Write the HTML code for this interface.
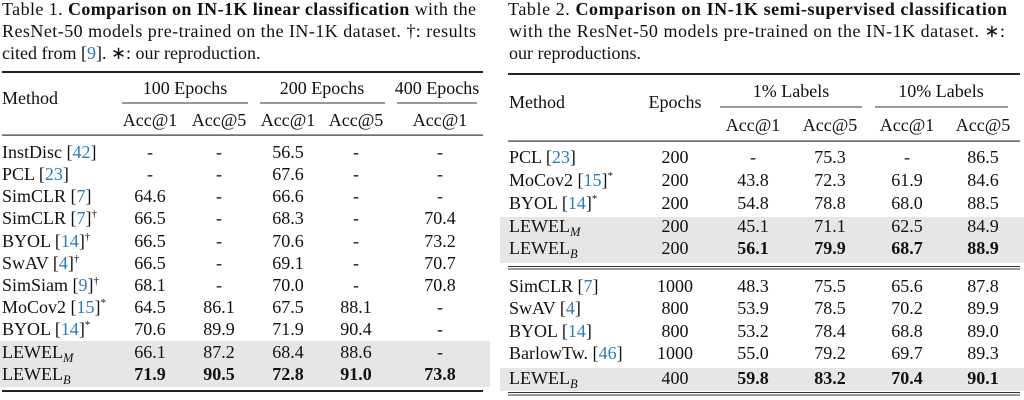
<!DOCTYPE html>
<html><head><meta charset="utf-8"><style>
html,body{margin:0;padding:0;background:#fff;}
svg{display:block;font-family:"Liberation Serif",serif;font-size:18px;fill:#111;}
.b{fill:#2b7bbf}
.bd{font-weight:bold}
</style></head><body>
<svg width="1024" height="400" viewBox="0 0 1024 400" xmlns="http://www.w3.org/2000/svg">
<rect x="0" y="341" width="490" height="46" fill="#e6e6e6"/>
<rect x="500" y="217" width="524" height="46" fill="#e6e6e6"/>
<rect x="500" y="368" width="524" height="23" fill="#e6e6e6"/>

<text x="2" y="15" textLength="474" lengthAdjust="spacing">Table 1.  <tspan class="bd">Comparison on IN-1K linear classification</tspan> with the</text>
<text x="2" y="37" textLength="474" lengthAdjust="spacing">ResNet-50 models pre-trained on the IN-1K dataset.  †: results</text>
<text x="2" y="59">cited from [<tspan class="b">9</tspan>]. ∗: our reproduction.</text>

<rect x="2" y="71" width="481" height="2" fill="#222"/>
<rect x="122" y="102.5" width="126" height="1" fill="#333"/>
<rect x="260" y="102.5" width="125" height="1" fill="#333"/>
<rect x="397" y="102.5" width="80" height="1" fill="#333"/>
<rect x="2" y="134.5" width="481" height="1.2" fill="#333"/>
<rect x="2" y="390" width="481" height="2" fill="#222"/>

<g>
<text x="2" y="104">Method</text>
<text x="185" y="94" text-anchor="middle">100 Epochs</text>
<text x="322" y="94" text-anchor="middle">200 Epochs</text>
<text x="437" y="94" text-anchor="middle">400 Epochs</text>
<g text-anchor="middle">
<text x="150" y="126">Acc@1</text><text x="219" y="126">Acc@5</text>
<text x="288" y="126">Acc@1</text><text x="356" y="126">Acc@5</text>
<text x="440" y="126">Acc@1</text>
</g>
</g>

<g>
<text x="2" y="158">InstDisc [<tspan class="b">42</tspan>]</text>
<text x="2" y="180">PCL [<tspan class="b">23</tspan>]</text>
<text x="2" y="202">SimCLR [<tspan class="b">7</tspan>]</text>
<text x="2" y="224">SimCLR [<tspan class="b">7</tspan>]<tspan font-size="11" dy="-7">†</tspan></text>
<text x="2" y="247">BYOL [<tspan class="b">14</tspan>]<tspan font-size="11" dy="-7">†</tspan></text>
<text x="2" y="269">SwAV [<tspan class="b">4</tspan>]<tspan font-size="11" dy="-7">†</tspan></text>
<text x="2" y="291">SimSiam [<tspan class="b">9</tspan>]<tspan font-size="11" dy="-7">†</tspan></text>
<text x="2" y="313">MoCov2 [<tspan class="b">15</tspan>]<tspan font-size="11" dy="-7">*</tspan></text>
<text x="2" y="335">BYOL [<tspan class="b">14</tspan>]<tspan font-size="11" dy="-7">*</tspan></text>
<text x="2" y="358">LEWEL<tspan font-size="12.5" font-style="italic" dy="4">M</tspan></text>
<text x="2" y="380">LEWEL<tspan font-size="12.5" font-style="italic" dy="4">B</tspan></text>
</g>
<g text-anchor="middle">
<text x="150" y="158">-</text><text x="150" y="180">-</text><text x="150" y="202">64.6</text><text x="150" y="224">66.5</text><text x="150" y="247">66.5</text><text x="150" y="269">66.5</text><text x="150" y="291">68.1</text><text x="150" y="313">64.5</text><text x="150" y="335">70.6</text><text x="150" y="358">66.1</text><text x="150" y="380" class="bd">71.9</text>
<text x="219" y="158">-</text><text x="219" y="180">-</text><text x="219" y="202">-</text><text x="219" y="224">-</text><text x="219" y="247">-</text><text x="219" y="269">-</text><text x="219" y="291">-</text><text x="219" y="313">86.1</text><text x="219" y="335">89.9</text><text x="219" y="358">87.2</text><text x="219" y="380" class="bd">90.5</text>
<text x="288" y="158">56.5</text><text x="288" y="180">67.6</text><text x="288" y="202">66.6</text><text x="288" y="224">68.3</text><text x="288" y="247">70.6</text><text x="288" y="269">69.1</text><text x="288" y="291">70.0</text><text x="288" y="313">67.5</text><text x="288" y="335">71.9</text><text x="288" y="358">68.4</text><text x="288" y="380" class="bd">72.8</text>
<text x="356" y="158">-</text><text x="356" y="180">-</text><text x="356" y="202">-</text><text x="356" y="224">-</text><text x="356" y="247">-</text><text x="356" y="269">-</text><text x="356" y="291">-</text><text x="356" y="313">88.1</text><text x="356" y="335">90.4</text><text x="356" y="358">88.6</text><text x="356" y="380" class="bd">91.0</text>
<text x="440" y="158">-</text><text x="440" y="180">-</text><text x="440" y="202">-</text><text x="440" y="224">70.4</text><text x="440" y="247">73.2</text><text x="440" y="269">70.7</text><text x="440" y="291">70.8</text><text x="440" y="313">-</text><text x="440" y="335">-</text><text x="440" y="358">-</text><text x="440" y="380" class="bd">73.8</text>
</g>

<text x="508" y="15" textLength="499" lengthAdjust="spacing">Table 2.  <tspan class="bd">Comparison on IN-1K semi-supervised classification</tspan></text>
<text x="509" y="37" textLength="496" lengthAdjust="spacing">with the ResNet-50 models pre-trained on the IN-1K dataset.  ∗:</text>
<text x="509" y="59">our reproductions.</text>

<rect x="508" y="73" width="512" height="2" fill="#222"/>
<rect x="720" y="106.5" width="142" height="1" fill="#333"/>
<rect x="875" y="106.5" width="133" height="1" fill="#333"/>
<rect x="508" y="140.5" width="512" height="1.2" fill="#333"/>
<rect x="508" y="266" width="512" height="1" fill="#333"/>
<rect x="508" y="268.5" width="512" height="1" fill="#333"/>
<rect x="508" y="392" width="512" height="1" fill="#333"/>
<rect x="508" y="394.5" width="512" height="1" fill="#333"/>

<text x="509" y="108">Method</text>
<text x="675" y="108" text-anchor="middle">Epochs</text>
<text x="791" y="97" text-anchor="middle">1% Labels</text>
<text x="941" y="97" text-anchor="middle">10% Labels</text>
<g text-anchor="middle">
<text x="753" y="131">Acc@1</text><text x="830" y="131">Acc@5</text><text x="907" y="131">Acc@1</text><text x="983" y="131">Acc@5</text>
</g>

<text x="509" y="163">PCL [<tspan class="b">23</tspan>]</text>
<text x="509" y="186">MoCov2 [<tspan class="b">15</tspan>]<tspan font-size="11" dy="-7">*</tspan></text>
<text x="509" y="209">BYOL [<tspan class="b">14</tspan>]<tspan font-size="11" dy="-7">*</tspan></text>
<text x="509" y="232">LEWEL<tspan font-size="12.5" font-style="italic" dy="4">M</tspan></text>
<text x="509" y="254">LEWEL<tspan font-size="12.5" font-style="italic" dy="4">B</tspan></text>
<text x="509" y="292">SimCLR [<tspan class="b">7</tspan>]</text>
<text x="509" y="314">SwAV [<tspan class="b">4</tspan>]</text>
<text x="509" y="337">BYOL [<tspan class="b">14</tspan>]</text>
<text x="509" y="359">BarlowTw. [<tspan class="b">46</tspan>]</text>
<text x="509" y="384">LEWEL<tspan font-size="12.5" font-style="italic" dy="4">B</tspan></text>

<g text-anchor="middle">
<text x="675" y="163">200</text><text x="675" y="186">200</text><text x="675" y="209">200</text><text x="675" y="232">200</text><text x="675" y="254">200</text><text x="675" y="292">1000</text><text x="675" y="314">800</text><text x="675" y="337">800</text><text x="675" y="359">1000</text><text x="675" y="384">400</text>
<text x="753" y="163">-</text><text x="753" y="186">43.8</text><text x="753" y="209">54.8</text><text x="753" y="232">45.1</text><text x="753" y="254" class="bd">56.1</text><text x="753" y="292">48.3</text><text x="753" y="314">53.9</text><text x="753" y="337">53.2</text><text x="753" y="359">55.0</text><text x="753" y="384" class="bd">59.8</text>
<text x="830" y="163">75.3</text><text x="830" y="186">72.3</text><text x="830" y="209">78.8</text><text x="830" y="232">71.1</text><text x="830" y="254" class="bd">79.9</text><text x="830" y="292">75.5</text><text x="830" y="314">78.5</text><text x="830" y="337">78.4</text><text x="830" y="359">79.2</text><text x="830" y="384" class="bd">83.2</text>
<text x="907" y="163">-</text><text x="907" y="186">61.9</text><text x="907" y="209">68.0</text><text x="907" y="232">62.5</text><text x="907" y="254" class="bd">68.7</text><text x="907" y="292">65.6</text><text x="907" y="314">70.2</text><text x="907" y="337">68.8</text><text x="907" y="359">69.7</text><text x="907" y="384" class="bd">70.4</text>
<text x="983" y="163">86.5</text><text x="983" y="186">84.6</text><text x="983" y="209">88.5</text><text x="983" y="232">84.9</text><text x="983" y="254" class="bd">88.9</text><text x="983" y="292">87.8</text><text x="983" y="314">89.9</text><text x="983" y="337">89.0</text><text x="983" y="359">89.3</text><text x="983" y="384" class="bd">90.1</text>
</g>
</svg>
</body></html>
